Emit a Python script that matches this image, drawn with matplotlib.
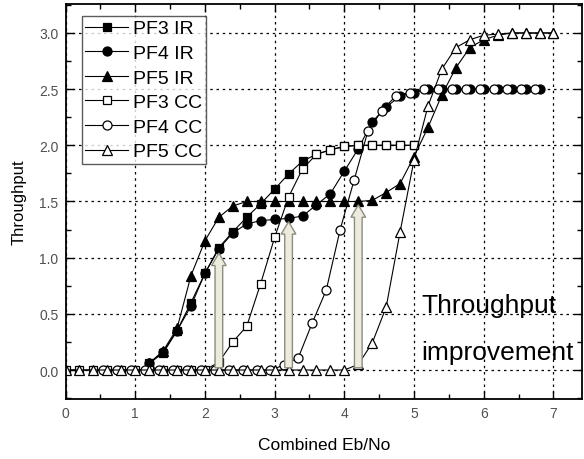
import numpy as np
import matplotlib
matplotlib.use("Agg")
import matplotlib.pyplot as plt
from matplotlib.patches import FancyArrow
from matplotlib.ticker import MultipleLocator

plt.rcParams['font.family'] = ['Liberation Sans', 'DejaVu Sans']

# ---------------- data ----------------
x_ir = [1.2, 1.4, 1.6, 1.8, 2.0, 2.2, 2.4, 2.6, 2.8, 3.0, 3.2, 3.4, 3.6, 3.8, 4.0,
        4.2, 4.4, 4.6, 4.8, 5.0, 5.2, 5.4, 5.6, 5.8, 6.0, 6.2, 6.4, 6.6, 6.8, 7.0]

pf3_ir_x = x_ir[:20]
pf3_ir = [0.06, 0.15, 0.35, 0.60, 0.86, 1.09, 1.23, 1.36, 1.48, 1.61, 1.745, 1.86,
          1.92, 1.96, 1.99, 2.0, 2.0, 2.0, 2.0, 2.0]

pf4_ir_x = x_ir[:29]
pf4_ir = [0.06, 0.16, 0.35, 0.57, 0.86, 1.08, 1.22, 1.30, 1.33, 1.34, 1.35, 1.37,
          1.47, 1.57, 1.77, 1.97, 2.21, 2.34, 2.44, 2.47, 2.50, 2.50, 2.50, 2.50,
          2.50, 2.50, 2.50, 2.50, 2.50]

pf5_ir_x = x_ir
pf5_ir = [0.06, 0.17, 0.37, 0.84, 1.15, 1.36, 1.46, 1.50, 1.50, 1.50, 1.50, 1.50,
          1.50, 1.50, 1.50, 1.50, 1.51, 1.58, 1.66, 1.90, 2.16, 2.45, 2.69, 2.87,
          2.94, 2.98, 3.0, 3.0, 3.0, 3.0]

pf3_cc_x = [0.0, 0.2, 0.4, 0.6, 0.8, 1.0, 1.2, 1.4, 1.6, 1.8, 2.0, 2.2, 2.4, 2.6,
            2.8, 3.0, 3.2, 3.4, 3.6, 3.8, 4.0, 4.2, 4.4, 4.6, 4.8, 5.0]
pf3_cc = [0, 0, 0, 0, 0, 0, 0, 0, 0, 0, 0, 0.07, 0.25, 0.39, 0.77, 1.18, 1.54, 1.79,
          1.92, 1.96, 1.99, 2.0, 2.0, 2.0, 2.0, 2.0]

pf4_cc_x = [0.54, 0.74, 0.94, 1.14, 1.34, 1.54, 1.74, 1.94, 2.14, 2.34, 2.54, 2.74,
            2.94, 3.14, 3.34, 3.54, 3.74, 3.94, 4.14, 4.34, 4.54, 4.74, 4.94, 5.14,
            5.34, 5.54, 5.74, 5.94, 6.14, 6.34, 6.54, 6.74]
pf4_cc = [0, 0, 0, 0, 0, 0, 0, 0, 0, 0, 0, 0, 0, 0.045, 0.11, 0.42, 0.71, 1.25,
          1.69, 2.13, 2.31, 2.44, 2.47, 2.50, 2.50, 2.50, 2.50, 2.50, 2.50, 2.50,
          2.50, 2.50]

pf5_cc_x = [0.0, 0.2, 0.4, 0.6, 0.8, 1.0, 1.2, 1.4, 1.6, 1.8, 2.0, 2.2, 2.4, 2.6,
            2.8, 3.0, 3.2, 3.4, 3.6, 3.8, 4.0, 4.2, 4.4, 4.6, 4.8, 5.0, 5.2, 5.4,
            5.6, 5.8, 6.0, 6.2, 6.4, 6.6, 6.8, 7.0]
pf5_cc = [0, 0, 0, 0, 0, 0, 0, 0, 0, 0, 0, 0, 0, 0, 0, 0, 0, 0, 0, 0, 0, 0.05, 0.24,
          0.56, 1.23, 1.87, 2.35, 2.68, 2.87, 2.94, 2.98, 2.99, 3.0, 3.0, 3.0, 3.0]

arrow_x = [2.2, 3.2, 4.2]
arrow_base = [0.02, 0.02, 0.02]
arrow_top = [1.04, 1.32, 1.47]

series = [
    ("PF3 IR", pf3_ir_x, pf3_ir, 's', 'black'),
    ("PF4 IR", pf4_ir_x, pf4_ir, 'o', 'black'),
    ("PF5 IR", pf5_ir_x, pf5_ir, '^', 'black'),
    ("PF3 CC", pf3_cc_x, pf3_cc, 's', 'white'),
    ("PF4 CC", pf4_cc_x, pf4_cc, 'o', 'white'),
    ("PF5 CC", pf5_cc_x, pf5_cc, '^', 'white'),
]

# ---------------- figure ----------------
fig = plt.figure(figsize=(5.84, 4.60), dpi=100)
ax = fig.add_axes([65.5 / 584, 1 - 400 / 460, (582 - 65.5) / 584, (400 - 5) / 460])

msize = {'s': 6.0, 'o': 6.5, '^': 7.0}
for label, xs, ys, mk, fc in series:
    ax.plot(xs, ys, color='black', lw=0.8, marker=mk, ms=msize[mk],
            mfc=fc, mec='black', mew=0.9, label=label)

for xa, y0, y1 in zip(arrow_x, arrow_base, arrow_top):
    ax.add_patch(FancyArrow(xa, y0, 0, y1 - y0, width=0.11, head_width=0.21,
                            head_length=0.11, length_includes_head=True,
                            fc='#ecebdd', ec='#8c8c80', lw=1.0, zorder=5))

ax.set_xlim(0, (582 - 65.5) / 69.71)
ax.set_ylim(-0.258, 3.258)
ax.xaxis.set_major_locator(MultipleLocator(1))
ax.xaxis.set_minor_locator(MultipleLocator(0.5))
ax.yaxis.set_major_locator(MultipleLocator(0.5))
ax.yaxis.set_minor_locator(MultipleLocator(0.25))
ax.yaxis.set_major_formatter(matplotlib.ticker.FormatStrFormatter('%.1f'))
ax.tick_params(which='both', direction='in', top=True, right=True,
               labelsize=10, labelcolor='#505050', width=1.0)
ax.tick_params(which='major', length=6, pad=5)
ax.tick_params(which='minor', length=3.5)
for s in ax.spines.values():
    s.set_linewidth(1.3)

ax.grid(True, which='major', color='black', linestyle=(0, (2, 3)), lw=0.9)
ax.set_axisbelow(True)

ax.set_xlabel("Combined Eb/No", fontsize=12.5, labelpad=12)
ax.set_ylabel("Throughput", fontsize=12, labelpad=9)

leg = ax.legend(loc='upper left', bbox_to_anchor=(0.031, 0.97), fontsize=14,
                frameon=True, fancybox=False, edgecolor='#333333',
                handlelength=2.2, handletextpad=0.25, labelspacing=0.36,
                borderpad=0.2, borderaxespad=0)
leg.get_frame().set_linewidth(1.0)

ax.text(5.1, 0.52, "Throughput", fontsize=19, va='baseline', ha='left')
ax.text(5.1, 0.1, "improvement", fontsize=19, va='baseline', ha='left',
        clip_on=False)

fig.savefig("out.png", dpi=100)
